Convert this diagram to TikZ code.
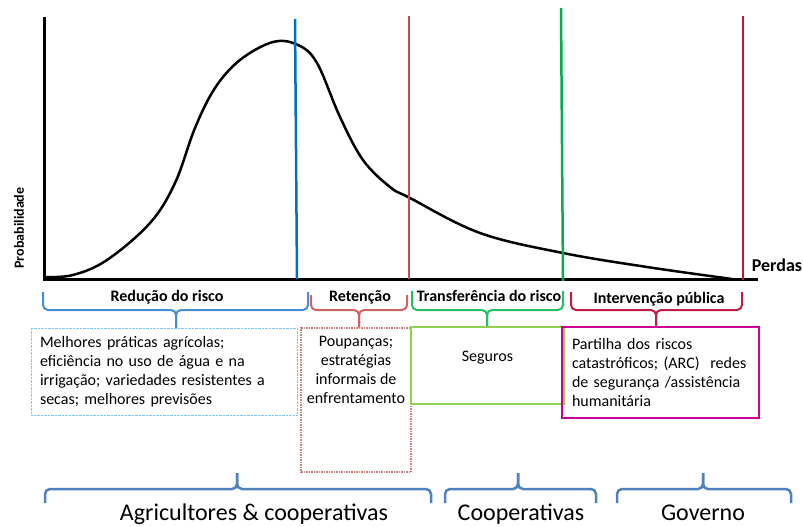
\documentclass[tikz,border=0pt]{standalone}
\usepackage{fontspec}
\setmainfont{Carlito}
\usetikzlibrary{positioning}
\definecolor{cutblue}{RGB}{0,112,192}
\definecolor{cutred}{RGB}{192,80,77}
\definecolor{cutgreen}{RGB}{0,176,80}
\definecolor{cutcrim}{RGB}{190,20,60}
\definecolor{brblue}{RGB}{70,140,210}
\definecolor{brred}{RGB}{205,100,100}
\definecolor{brgreen}{RGB}{40,190,100}
\definecolor{brcrim}{RGB}{190,30,70}
\definecolor{bxblue}{RGB}{120,200,240}
\definecolor{bxred}{RGB}{200,130,130}
\definecolor{bxgreen}{RGB}{146,208,80}
\definecolor{bxmag}{RGB}{204,0,153}
\definecolor{grpblue}{RGB}{79,129,189}

\begin{document}
\begin{tikzpicture}[x=1pt,y=-1pt,
                    txt/.style={font=\fontsize{16}{19}\selectfont},
                    lbl/.style={font=\bfseries\fontsize{16}{19}\selectfont,anchor=base},
                    grp/.style={font=\fontsize{24}{28}\selectfont,anchor=base},
                    brc/.style={line width=2pt,rounded corners=5pt},
                    cut/.style={line width=2.5pt},
                    box/.style={draw,inner sep=0pt,txt}]
\useasboundingbox (0,0) rectangle (803,527);

 \coordinate (O) at (44,279);
 \draw[line width=3pt] (44,17) -- (O) -- (758,279);
 \node[font=\bfseries\fontsize{18}{22}\selectfont,anchor=base] (X) at (777,271) {Perdas};
 \node[font=\bfseries\fontsize{14}{17}\selectfont,rotate=90] (Y) at (19,228) {Probabilidade};

 \draw[line width=2.5pt] plot[smooth,tension=0.6] coordinates {(45,277) (73,275) (107,260)
   (150,223) (175,183) (195,128) (215,88) (240,60) (273,42) (298,45) (317,63)
   (340,117) (363,160) (390,187) (410,198) (480,233) (563,253)
   (647,267) (732,279)};

 \draw[cut,cutblue]  (295,19) -- (297,279);
 \draw[cut,cutred]   (409,16) -- (409,279);
 \draw[cut,cutgreen] (561,8) -- (563,281);
 \draw[line width=1.5pt,cutcrim] (743,16) -- (743,280);

 \node[lbl] (L1) at (167,301) {Redução do risco};
 \node[lbl] (L2) at (360,301) {Retenção};
 \node[lbl] (L3) at (489,301) {Transferência do risco};
 \node[lbl] (L4) at (659,303) {Intervenção pública};

 \node[box,draw=bxblue,densely dotted,minimum width=266,minimum height=87,
       text width=248,align=left] (A) at (164,371.5)
       {Melhores práticas agrícolas;\\ eficiência no uso de água e na\\
        irrigação; variedades resistentes a\\ secas; melhores previsões};
 \node[box,draw=bxred,densely dotted,line width=1.5pt,minimum width=110,minimum height=144] (B) at (356,400) {};
 \node[txt,align=center,below=5pt of B.north] (Bt) {Poupanças;\\estratégias\\informais de\\enfrentamento};
 \node[box,draw=bxgreen,line width=2pt,minimum width=153,minimum height=77] (C) at (487.5,365.5) {};
 \node[txt,below=22pt of C.north] (Ct) {Seguros};
 \node[box,draw=bxmag,line width=2.5pt,minimum width=197,minimum height=91,
       text width=177,align=left] (D) at (660.5,372.5)
       {Partilha dos riscos\\ catastróficos; (ARC)~ redes\\ de segurança /assistência\\ humanitária};

 \coordinate (t1) at (176,310);
 \coordinate (t2) at (359,310);
 \coordinate (t3) at (487,310);
 \coordinate (t4) at (656,310);
 \draw[brc,brblue]  (43,292) |- (t1) -- (t1 |- A.north);
 \draw[brc,brblue]  (308,292) |- (t1) -- (t1 |- A.north);
 \draw[brc,brred]   (311,295) |- (t2) -- (t2 |- B.north);
 \draw[brc,brred]   (407,295) |- (t2) -- (t2 |- B.north);
 \draw[brc,brgreen] (412,291) |- (t3) -- (t3 |- C.north);
 \draw[brc,brgreen] (563,291) |- (t3) -- (t3 |- C.north);
 \draw[brc,brcrim]  (571,292) |- (t4) -- (t4 |- D.north);
 \draw[brc,brcrim]  (742,292) |- (t4) -- (t4 |- D.north);

 \node[grp] (G1) at (254,520) {Agricultores \& cooperativas};
 \node[grp] (G2) at (521,520) {Cooperativas};
 \node[grp] (G3) at (703,520) {Governo};
 \coordinate (g1) at (237,489);
 \coordinate (g2) at (518,489);
 \coordinate (g3) at (703,489);
 \draw[brc,line width=2.5pt,grpblue] (45,503) |- (g1) -- (237,473);
 \draw[brc,line width=2.5pt,grpblue] (431,503) |- (g1) -- (237,473);
 \draw[brc,line width=2.5pt,grpblue] (445,503) |- (g2) -- (518,473);
 \draw[brc,line width=2.5pt,grpblue] (596,503) |- (g2) -- (518,473);
 \draw[brc,line width=2.5pt,grpblue] (617,503) |- (g3) -- (703,473);
 \draw[brc,line width=2.5pt,grpblue] (791,503) |- (g3) -- (703,473);

\end{tikzpicture}
\end{document}
